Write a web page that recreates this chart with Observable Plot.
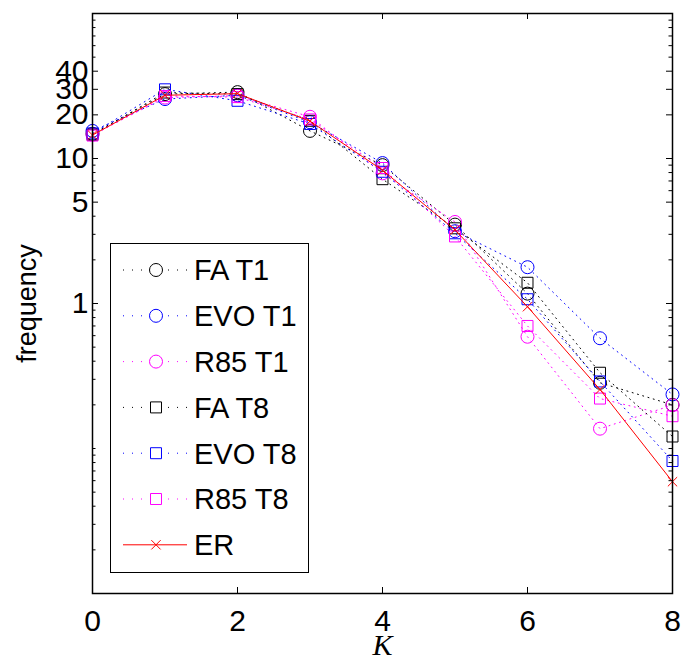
<!DOCTYPE html>
<html>
<head>
<meta charset="utf-8">
<script src="https://cdn.jsdelivr.net/npm/d3@7"></script>
<script src="https://cdn.jsdelivr.net/npm/@observablehq/plot@0.6"></script>
<style>
  html, body { margin: 0; padding: 0; background: #fff; }
</style>
</head>
<body>
<div id="chart"></div>
<script>
// Degree K and the frequency (%) of each degree, per method
const K = [0, 1, 2, 3, 4, 5, 6, 7, 8];
const faT1  = [14.8, 27.8, 28.7, 15.5, 9.0, 3.5, 1.17, 0.284, 0.2];
const evoT1 = [15.5, 25.7, 27.3, 17.8, 9.3, 3.15, 1.78, 0.576, 0.236];
const r85T1 = [14.6, 26.3, 27.1, 19.4, 7.9, 3.65, 0.59, 0.137, 0.199];
const faT8  = [14.6, 28.5, 27.8, 18.2, 7.2, 3.3, 1.39, 0.333, 0.121];
const evoT8 = [14.9, 30.0, 25.0, 17.3, 8.1, 3.05, 1.07, 0.29, 0.082];
const r85T8 = [14.4, 27.0, 26.5, 18.6, 8.6, 2.9, 0.70, 0.221, 0.167];
const er    = [14.5, 27.3, 28.0, 18.1, 8.3, 3.22, 0.95, 0.255, 0.059];

const seriesNames   = ["FA T1", "EVO T1", "R85 T1", "FA T8", "EVO T8", "R85 T8", "ER"];
const seriesValues  = [faT1, evoT1, r85T1, faT8, evoT8, r85T8, er];
const seriesColors  = ["black", "blue", "magenta", "black", "blue", "magenta", "red"];
const seriesSymbols = ["circle", "circle", "circle", "square", "square", "square", "times"];

// Tick values
const xTicks = [0, 2, 4, 6, 8];
const yTickLabels = [1, 5, 10, 20, 30, 40];

// Layout
const W = 681, H = 662;
const mL = 92, mR = 9, mT = 13, mB = 69;
const iw = W - mL - mR, ih = H - mT - mB;
const sansFont = "'Liberation Sans', Arial, Helvetica, sans-serif";
const serifFont = "'Liberation Serif', 'Times New Roman', serif";

const markerR = {circle: 6.5, square: 6.2, times: 4.3};
const dotted = "1,4.5";

const yDomain = [0.01, 100];
const minorTicks = d3.scaleLog().domain(yDomain).ticks()
  .filter(t => !yTickLabels.includes(t) && t > yDomain[0] && t < yDomain[1]);

const rows = seriesNames.map((name, i) =>
  K.map((k, j) => ({k, v: seriesValues[i][j], name})));

const seriesMarks = rows.flatMap((data, i) => {
  const solid = seriesSymbols[i] === "times";
  return [
    Plot.line(data, {
      x: "k", y: "v", stroke: seriesColors[i], strokeWidth: 1,
      strokeDasharray: solid ? null : dotted
    }),
    Plot.dot(data, {
      x: "k", y: "v", symbol: seriesSymbols[i], r: markerR[seriesSymbols[i]],
      stroke: seriesColors[i], fill: "none", strokeWidth: 1
    })
  ];
});

const chart = Plot.plot({
  width: W,
  height: H,
  marginLeft: mL, marginRight: mR, marginTop: mT, marginBottom: mB,
  style: {fontFamily: sansFont, fontSize: "30px", background: "white", color: "black"},
  x: {domain: [0, 8], axis: null},
  y: {type: "log", domain: yDomain, axis: null},
  marks: [
    ...seriesMarks,
    // inward ticks on all four sides
    Plot.tickX(xTicks, {x: d => d, insetTop: ih - 6, stroke: "black"}),
    Plot.tickX(xTicks, {x: d => d, insetBottom: ih - 6, stroke: "black"}),
    Plot.tickY(yTickLabels, {y: d => d, insetRight: iw - 6, stroke: "black"}),
    Plot.tickY(yTickLabels, {y: d => d, insetLeft: iw - 6, stroke: "black"}),
    Plot.tickY(minorTicks, {y: d => d, insetRight: iw - 3.5, stroke: "black"}),
    Plot.tickY(minorTicks, {y: d => d, insetLeft: iw - 3.5, stroke: "black"}),
    Plot.frame({stroke: "black", strokeWidth: 1.5}),
    // tick labels
    Plot.text(xTicks, {x: d => d, text: d => String(d), frameAnchor: "bottom",
                       lineAnchor: "top", dy: 16, fontSize: 30, fill: "black"}),
    Plot.text(yTickLabels, {y: d => d, text: d => String(d), frameAnchor: "left",
                            textAnchor: "end", dx: -4, fontSize: 30, fill: "black"}),
    // axis titles
    Plot.text(["K"], {text: d => d, frameAnchor: "bottom", dy: 61, textAnchor: "middle",
                      fontStyle: "italic", fontFamily: serifFont, fontSize: 30, fill: "black"}),
    Plot.text(["frequency"], {text: d => d, frameAnchor: "left", dx: -65, rotate: -90,
                              textAnchor: "middle", fontSize: 27, fill: "black"})
  ]
});

document.getElementById("chart").appendChild(chart);

// Legend box inside the plot area
const svg = d3.select(chart);
const lg = svg.append("g").attr("class", "legend");
lg.append("rect")
  .attr("x", 110.5).attr("y", 243.5).attr("width", 198).attr("height", 329)
  .attr("fill", "white").attr("stroke", "black").attr("stroke-width", 1);

const symbolTypes = {circle: d3.symbolCircle, square: d3.symbolSquare, times: d3.symbolTimes};
seriesNames.forEach((name, i) => {
  const cy = 270 + i * 45.8;
  const solid = seriesSymbols[i] === "times";
  lg.append("line")
    .attr("x1", 123).attr("x2", 187).attr("y1", cy).attr("y2", cy)
    .attr("stroke", seriesColors[i]).attr("stroke-width", 1)
    .attr("stroke-dasharray", solid ? null : "1,8");
  const r = markerR[seriesSymbols[i]];
  lg.append("path")
    .attr("transform", `translate(156,${cy})`)
    .attr("d", d3.symbol(symbolTypes[seriesSymbols[i]], Math.PI * r * r)())
    .attr("fill", "white").attr("stroke", seriesColors[i]).attr("stroke-width", 1);
  lg.append("text")
    .attr("x", 194).attr("y", cy).attr("dy", "0.36em")
    .attr("text-anchor", "start")
    .attr("font-size", 29).attr("fill", "black")
    .text(name);
});
</script>
</body>
</html>
